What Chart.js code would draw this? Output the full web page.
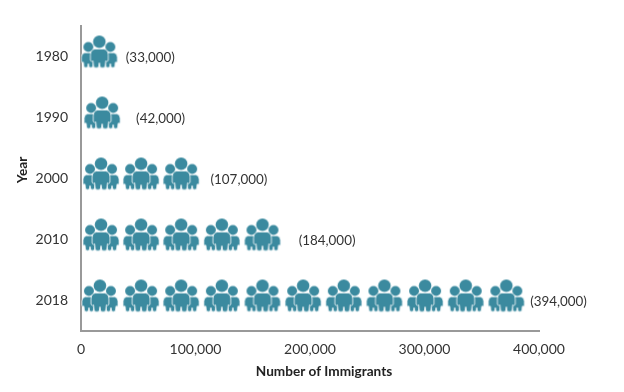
<!DOCTYPE html>
<html>
<head>
<meta charset="utf-8">
<style>
  html, body { margin: 0; padding: 0; background: #fff; }
  #wrap { width: 624px; height: 392px; }
</style>
</head>
<body>
<div id="wrap"><canvas id="immigrantsChart" width="624" height="392"></canvas></div>
<script src="https://cdn.jsdelivr.net/npm/chart.js@4/dist/chart.umd.min.js"></script>
<script>
const years = ['1980', '1990', '2000', '2010', '2018'];
const totals = [33000, 42000, 107000, 184000, 394000];
const totalLabels = ['(33,000)', '(42,000)', '(107,000)', '(184,000)', '(394,000)'];
// where each family icon sits along the x axis
const icons1980 = [16000];
const icons1990 = [18500];
const icons2000 = [17500, 52500, 87500];
const icons2010 = [17500, 52500, 87500, 123000, 158500];
const icons2018 = [16500, 52500, 87500, 123000, 158500, 194000, 229500, 265000, 300500, 336000, 371500];
const xTicks = [0, 100000, 200000, 300000, 400000];

const teal = '#3b8a9f';
const grey = '#999999';
const textColor = '#333333';

function person(g, cx, top, s) {
    // body, slim at the legs so it does not read as a blob
    g.beginPath();
    g.moveTo(cx - 4.5 * s, top + 14 * s);
    g.lineTo(cx + 4.5 * s, top + 14 * s);
    g.quadraticCurveTo(cx + 9 * s, top + 14.5 * s, cx + 9.3 * s, top + 20 * s);
    g.lineTo(cx + 9.3 * s, top + 26 * s);
    g.quadraticCurveTo(cx + 8 * s, top + 28 * s, cx + 6.6 * s, top + 26.5 * s);
    g.lineTo(cx + 6 * s, top + 33 * s);
    g.quadraticCurveTo(cx + 3 * s, top + 34.5 * s, cx + 0.7 * s, top + 33 * s);
    g.lineTo(cx, top + 28.5 * s);
    g.lineTo(cx - 0.7 * s, top + 33 * s);
    g.quadraticCurveTo(cx - 3 * s, top + 34.5 * s, cx - 6 * s, top + 33 * s);
    g.lineTo(cx - 6.6 * s, top + 26.5 * s);
    g.quadraticCurveTo(cx - 8 * s, top + 28 * s, cx - 9.3 * s, top + 26 * s);
    g.lineTo(cx - 9.3 * s, top + 20 * s);
    g.quadraticCurveTo(cx - 9 * s, top + 14.5 * s, cx - 4.5 * s, top + 14 * s);
    g.closePath();
    g.fill();
    g.stroke();
    // head
    g.beginPath();
    g.arc(cx, top + 6.5 * s, 6.5 * s, 0, Math.PI * 2);
    g.fill();
}

function makeFamilyIcon() {
    const c = document.createElement('canvas');
    c.width = 40;
    c.height = 48; // extra room below so the icon sits above the year's tick
    const g = c.getContext('2d');
    g.fillStyle = teal;
    g.strokeStyle = '#ffffff';
    g.lineWidth = 0.8;
    person(g, 9, 9.5, 0.76);
    person(g, 31, 9.5, 0.76);
    person(g, 20, 3, 0.96);
    return c;
}

const familyIcon = makeFamilyIcon();

function iconPoints(xs, year) {
    return xs.map(x => ({ x: x, y: year }));
}

const iconRows = [icons1980, icons1990, icons2000, icons2010, icons2018];

const labelsPlugin = {
    id: 'rowLabels',
    afterDatasetsDraw(chart) {
        const { ctx, scales } = chart;
        ctx.save();
        ctx.fillStyle = textColor;
        ctx.font = '13.4px Lato';
        ctx.textBaseline = 'middle';
        ctx.textAlign = 'left';
        totals.forEach((v, i) => {
            const shift = i === 4 ? -2 : 7;
            ctx.fillText(totalLabels[i], scales.x.getPixelForValue(v) + shift, scales.y.getPixelForValue(years[i]) + 1);
        });
        // axis titles sit off-centre in the original
        ctx.font = 'bold 13.6px Lato';
        ctx.textAlign = 'center';
        ctx.fillStyle = '#222222';
        ctx.fillText('Number of Immigrants', 324, 372);
        ctx.translate(23, 170);
        ctx.rotate(-Math.PI / 2);
        ctx.fillText('Year', 0, 0);
        ctx.restore();
    }
};

new Chart(document.getElementById('immigrantsChart').getContext('2d'), {
    type: 'scatter',
    data: {
        datasets: iconRows.map((xs, i) => ({
            label: years[i],
            data: iconPoints(xs, years[i]),
            pointStyle: familyIcon,
            pointRadius: 20,
            pointHoverRadius: 20
        }))
    },
    options: {
        responsive: false,
        animation: false,
        layout: { padding: { top: 26, right: 85, left: 0, bottom: 0 } },
        plugins: {
            legend: { display: false },
            tooltip: { enabled: false }
        },
        scales: {
            x: {
                type: 'linear',
                min: 0,
                max: 400000,
                grid: { display: false, drawTicks: false },
                border: { color: grey, width: 2 },
                afterBuildTicks(axis) { axis.ticks = xTicks.map(v => ({ value: v })); },
                afterFit(axis) { axis.height = 61; },
                ticks: {
                    color: textColor,
                    font: { family: 'Lato', size: 14 },
                    padding: 10,
                    maxRotation: 0,
                    callback: v => v.toLocaleString('en-US')
                }
            },
            y: {
                type: 'category',
                labels: years,
                offset: true,
                grid: { display: false, drawTicks: true, tickLength: 4, tickColor: grey, drawOnChartArea: false },
                border: { color: grey, width: 2 },
                afterFit(axis) { axis.width = 81; },
                ticks: {
                    color: textColor,
                    font: { family: 'Lato', size: 14 },
                    padding: 9
                }
            }
        }
    },
    plugins: [labelsPlugin]
});
</script>
</body>
</html>
